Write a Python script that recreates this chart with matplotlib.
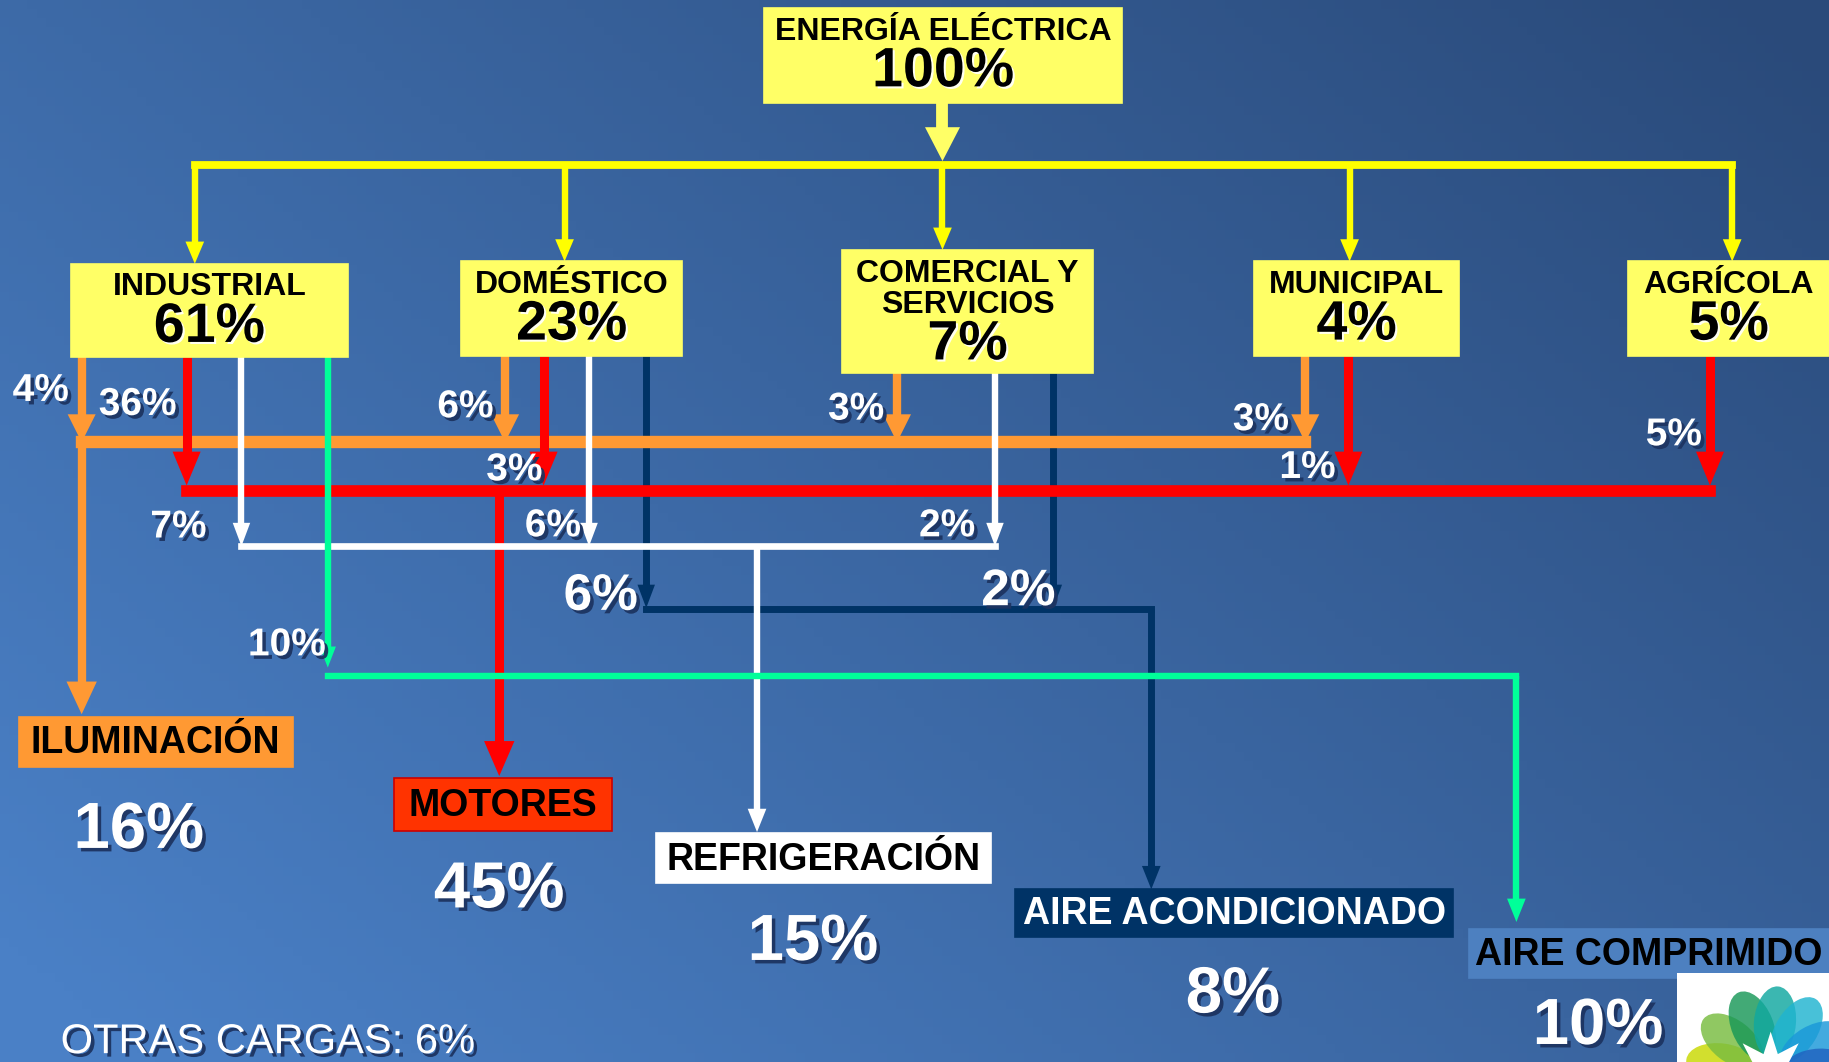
import matplotlib.pyplot as plt
import matplotlib.patheffects as pe
from matplotlib.patches import Rectangle, Ellipse, Polygon
import numpy as np

# --- data ---
total_label = "ENERGÍA ELÉCTRICA"
total_pct = 100
sectors = ["INDUSTRIAL", "DOMÉSTICO", "COMERCIAL Y\nSERVICIOS", "MUNICIPAL", "AGRÍCOLA"]
sector_pct = [61, 23, 7, 4, 5]
uses = ["ILUMINACIÓN", "MOTORES", "REFRIGERACIÓN", "AIRE ACONDICIONADO", "AIRE COMPRIMIDO"]
use_pct = [16, 45, 15, 8, 10]
# share of each sector going to each end use (None = no flow)
flow_ilum = [4, 6, 3, 3, None]
flow_motores = [36, 3, None, 1, 5]
flow_refrig = [7, 6, 2, None, None]
flow_aire_acond = [None, 6, 2, None, None]
flow_aire_comp = [10, None, None, None, None]
otras_cargas = 6

# --- layout (canvas units, 1568 x 910) ---
W, H = 1568, 910
top_box = (655, 7, 962, 88)
sector_boxes = [(61, 226, 298, 306), (395, 224, 585, 305), (722, 214, 937, 320),
                (1075, 224, 1251, 305), (1396, 224, 1568, 305)]
sector_feed_x = [167, 484, 808, 1157, 1485]
use_boxes = [(16, 614, 251, 657), (338, 667, 525, 712), (562, 714, 850, 757),
             (870, 762, 1246, 803), (1259, 796, 1568, 838)]
use_box_colors = ["#ff9933", "#ff3300", "#ffffff", "#003366", "#4d80c0"]
use_text_colors = ["black", "black", "black", "white", "black"]
use_pct_pos = [(119, 712), (428, 763), (697, 808), (1057, 853), (1370, 880)]

flows = [
    dict(vals=flow_ilum, color="#ff9933", lw_v=6.0, lw_h=8.9, z=3, xs=[70, 433, 769, 1119, None],
         y=379, tip=379, head=(24, 12), drop_x=70, drop_tip=612, drop_head=(28, 13),
         lab=[(35, 335), (399, 349), (734, 351), (1081, 360), None], big=False),
    dict(vals=flow_motores, color="#ff0000", lw_v=6.5, lw_h=8.4, z=4, xs=[160, 466, None, 1156, 1466],
         y=421, tip=416, head=(29, 12), drop_x=428, drop_tip=665, drop_head=(30, 13),
         lab=[(118, 347), (441, 403), None, (1121, 401), (1435, 373)], big=False),
    dict(vals=flow_refrig, color="#ffffff", lw_v=4.6, lw_h=4.8, z=5, xs=[207, 505, 853, None, None],
         y=468, tip=468, head=(20, 7.5), drop_x=649, drop_tip=713, drop_head=(20, 8),
         lab=[(153, 452), (474, 451), (812, 451), None, None], big=False),
    dict(vals=flow_aire_acond, color="#003366", lw_v=5.0, lw_h=5.0, z=2, xs=[None, 554, 903, None, None],
         y=522, tip=521, head=(20, 7.5), drop_x=987, drop_tip=762, drop_head=(20, 8),
         lab=[None, (515, 511), (873, 507), None, None], big=True),
    dict(vals=flow_aire_comp, color="#00ff99", lw_v=4.6, lw_h=4.6, z=6, xs=[281, None, None, None, None],
         y=579, tip=572, head=(18, 7), drop_x=1300, drop_tip=790, drop_head=(20, 8),
         lab=[(246, 553), None, None, None, None], big=False),
]

FONT = ["Liberation Sans Narrow", "Liberation Sans", "DejaVu Sans"]
shadow = [pe.SimplePatchShadow(offset=(2.5, -2.5), shadow_rgbFace="#1d3461", alpha=0.95), pe.Normal()]
light_shadow = [pe.SimplePatchShadow(offset=(1.5, -1.5), shadow_rgbFace="#ffffff", alpha=0.9), pe.Normal()]

fig = plt.figure(figsize=(18.29, 10.62), dpi=100)
ax = fig.add_axes([0, 0, 1, 1])
ax.set_xlim(0, W)
ax.set_ylim(H, 0)
ax.axis("off")

# background gradient: light bottom-left, dark top-right
gx, gy = np.meshgrid(np.linspace(0, 1, 200), np.linspace(0, 1, 120))
t = np.clip(0.62 * gx + 0.45 * (1 - gy) - 0.05, 0, 1)
light = np.array([0x4a, 0x80, 0xc6]) / 255
dark = np.array([0x2a, 0x4a, 0x7a]) / 255
grad = light[None, None, :] * (1 - t[..., None]) + dark[None, None, :] * t[..., None]
ax.imshow(grad, extent=(0, W, H, 0), aspect="auto", zorder=0)


def vline(x, y0, y1, color, lw, z):
    ax.plot([x, x], [y0, y1], color=color, lw=lw, solid_capstyle="butt", zorder=z)


def hline(y, x0, x1, color, lw, z):
    ax.plot([x0, x1], [y, y], color=color, lw=lw, solid_capstyle="projecting", zorder=z)


def arrow_down(x, y0, tip, color, lw, head, z):
    hl, hw = head
    vline(x, y0, tip - hl + 2, color, lw, z)
    ax.fill([x - hw, x + hw, x], [tip - hl, tip - hl, tip], color=color, lw=0, zorder=z)


def box(b, fc, ec=None, z=8):
    x0, y0, x1, y1 = b
    ax.add_patch(Rectangle((x0, y0), x1 - x0, y1 - y0, facecolor=fc,
                           edgecolor=ec if ec else fc, lw=1.2, zorder=z))


# top box and yellow distribution
yellow = "#ffff00"
box(top_box, "#ffff66")
cx_top = (top_box[0] + top_box[2]) / 2
ax.text(cx_top, 27, total_label, ha="center", va="center", fontsize=23, fontweight="bold",
        family=FONT, color="black", zorder=9)
ax.text(cx_top, 62, f"{total_pct}%", ha="center", va="center", fontsize=40, fontweight="bold",
        family=FONT, color="black", zorder=9, path_effects=light_shadow)
arrow_down(808, 88, 138, "#ffff66", 8.5, (29, 15), 3)
hline(141, sector_feed_x[0], sector_feed_x[-1], yellow, 5.6, 3)
for i, x in enumerate(sector_feed_x):
    arrow_down(x, 141, sector_boxes[i][1], yellow, 4.6, (19, 8), 3)

# sector boxes
for name, pct, b in zip(sectors, sector_pct, sector_boxes):
    box(b, "#ffff66")
    cx = (b[0] + b[2]) / 2
    if "\n" in name:
        l1, l2 = name.split("\n")
        ax.text(cx, b[1] + 21, l1, ha="center", va="center", fontsize=23, fontweight="bold",
                family=FONT, zorder=9)
        ax.text(cx, b[1] + 47, l2, ha="center", va="center", fontsize=23, fontweight="bold",
                family=FONT, zorder=9)
        ax.text(cx, b[1] + 82, f"{pct}%", ha="center", va="center", fontsize=40, fontweight="bold",
                family=FONT, zorder=9, path_effects=light_shadow)
    else:
        ax.text(cx, b[1] + 20, name, ha="center", va="center", fontsize=23, fontweight="bold",
                family=FONT, zorder=9)
        ax.text(cx, b[1] + 55, f"{pct}%", ha="center", va="center", fontsize=40, fontweight="bold",
                family=FONT, zorder=9, path_effects=light_shadow)

# flows into end uses
for f in flows:
    c = f["color"]
    used = [(x, v, lab) for x, v, lab in zip(f["xs"], f["vals"], f["lab"]) if v is not None]
    for x, v, lab in used:
        sb = sector_boxes[f["xs"].index(x)]
        arrow_down(x, sb[3], f["tip"], c, f["lw_v"], f["head"], f["z"])
        size = 37 if f["big"] else 28
        ax.text(lab[0], lab[1], f"{v}%", ha="center", va="center", fontsize=size, fontweight="bold",
                family=FONT, color="white", zorder=10, path_effects=shadow)
    xs_used = [x for x, _, _ in used]
    x0 = min(xs_used + [f["drop_x"]])
    x1 = max(xs_used + [f["drop_x"]])
    if x1 > x0:
        hline(f["y"], x0, x1, c, f["lw_h"], f["z"])
    arrow_down(f["drop_x"], f["y"], f["drop_tip"], c, f["lw_v"], f["drop_head"], f["z"])

# end-use boxes
for i, (name, pct, b) in enumerate(zip(uses, use_pct, use_boxes)):
    box(b, use_box_colors[i], ec="#cc0000" if i == 1 else None)
    cx = (b[0] + b[2]) / 2
    ax.text(cx, (b[1] + b[3]) / 2 + 1, name, ha="center", va="center", fontsize=27, fontweight="bold",
            family=FONT, color=use_text_colors[i], zorder=9)
    px, py = use_pct_pos[i]
    ax.text(px, py, f"{pct}%", ha="center", va="center", fontsize=47, fontweight="bold",
            family=FONT, color="white", zorder=10, path_effects=shadow)

ax.text(52, 893, f"OTRAS CARGAS: {otras_cargas}%", ha="left", va="center", fontsize=30,
        family=FONT, color="white", zorder=10, path_effects=shadow)

# logo in the corner
logo = Rectangle((1438, 834), W - 1438, H - 834, facecolor="white", edgecolor="none", zorder=11)
ax.add_patch(logo)
lc = (1518, 918)
petals = [(205, "#f0a030"), (172, "#c8d800"), (142, "#78bc40"), (112, "#189858"),
          (85, "#10a8a0"), (58, "#20b4d0"), (30, "#1a98d8"), (2, "#2062c0")]
for ang, col in petals:
    a = np.deg2rad(ang)
    e = Ellipse((lc[0] + 42 * np.cos(a), lc[1] - 42 * np.sin(a)), 62, 36, angle=-ang,
                facecolor=col, edgecolor="none", alpha=0.82, zorder=12)
    ax.add_patch(e)
    e.set_clip_path(logo)
star_pts = []
for k in range(16):
    r = 34 if k % 2 == 0 else 16
    a = np.deg2rad(90 + k * 22.5)
    star_pts.append((lc[0] + r * np.cos(a), lc[1] - r * np.sin(a)))
star = Polygon(star_pts, closed=True, facecolor="white", edgecolor="none", zorder=13)
ax.add_patch(star)
star.set_clip_path(logo)

fig.savefig("out.png", dpi=100)
